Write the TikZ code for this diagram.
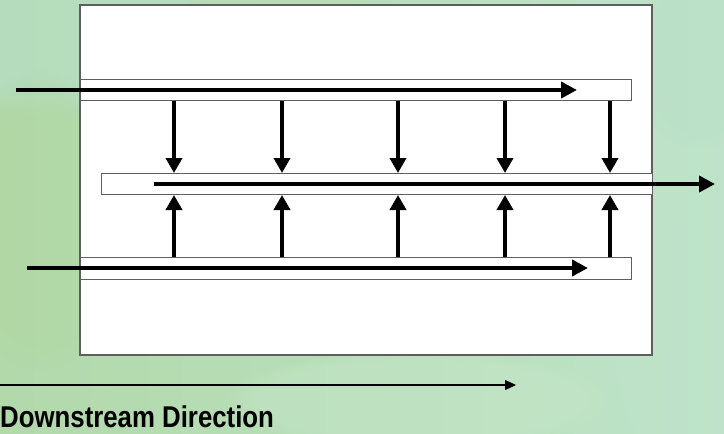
\documentclass[tikz,border=0pt]{standalone}
\usepackage{fontspec}
\setmainfont{Liberation Sans}
\newfontfamily\captionfont[FakeStretch=0.86]{Liberation Sans}
\usetikzlibrary{arrows.meta,calc,fadings}

\definecolor{bgleft}{HTML}{B2D9AA}
\definecolor{bgright}{HTML}{BEE3CA}
\definecolor{bgtop}{HTML}{B8DFC8}
\definecolor{bgwarm}{HTML}{B0D6A0}
\definecolor{bglight}{HTML}{C4E6C6}
\definecolor{frame}{HTML}{5E5E5E}

\tikzset{
  panel/.style={fill=white, draw=frame, line width=1.4pt},
  channel/.style={fill=white, draw=frame, line width=1pt, inner sep=0pt, anchor=north west},
  flow/.style={draw=black, line width=4pt, -{Triangle[length=16pt,width=16pt]}},
  seep/.style={draw=black, line width=3.6pt, -{Triangle[length=15pt,width=16pt]}},
  axis/.style={draw=black, line width=1.2pt, -{Triangle[length=11pt,width=10pt]}},
  caption/.style={font=\captionfont\bfseries\fontsize{30pt}{32pt}\selectfont, inner sep=0pt, anchor=base west},
  spot/.style={path fading=circle with fuzzy edge 20 percent}
}

\begin{document}
\begin{tikzpicture}[x=1pt,y=-1pt]
\useasboundingbox (0,0) rectangle (724,434);

% mottled green backdrop
\shade[left color=bgleft, right color=bgright] (0,0) rectangle (724,434);
\fill[bgtop, spot, opacity=0.6] (60,30) ellipse (160 and 90);
\fill[bgwarm, spot, opacity=0.45] (40,220) ellipse (90 and 150);
\fill[bglight, spot, opacity=0.5] (420,400) ellipse (200 and 50);
\fill[bgright, spot, opacity=0.6] (690,330) ellipse (90 and 140);
\fill[bgtop, spot, opacity=0.4] (700,60) ellipse (70 and 90);

% white panel
\draw[panel] (80,5) rectangle (652,355);

% the three channels
\node[channel, minimum width=551pt, minimum height=21pt] (upper) at (80,79) {};
\node[channel, minimum width=551pt, minimum height=21pt] (middle) at (101,173) {};
\node[channel, minimum width=551pt, minimum height=22pt] (lower) at (80,257) {};

% flow along the channels
\coordinate (upperIn)  at (16,90);
\coordinate (upperOut) at (577,90);
\coordinate (midIn)    at (154,184);
\coordinate (midOut)   at (715,184);
\coordinate (lowerIn)  at (27,268);
\coordinate (lowerOut) at (588,268);
\draw[flow] (upperIn) -- (upperOut);
\draw[flow] (midIn) -- (midOut);
\draw[flow] (lowerIn) -- (lowerOut);

% exchange from the outer channels into the middle one
\foreach \x in {174,282,398,505,610} {
  \draw[seep] (\x,0 |- upper.south) -- (\x,0 |- middle.north);
  \draw[seep] (\x,0 |- lower.north) -- (\x,0 |- middle.south);
}

% downstream axis and its label
\coordinate (axisStart) at (0,385);
\coordinate (axisEnd)   at (516,385);
\draw[axis] (axisStart) -- (axisEnd);
\node[caption] (dirlabel) at (0,427) {Downstream Direction};
\end{tikzpicture}
\end{document}
